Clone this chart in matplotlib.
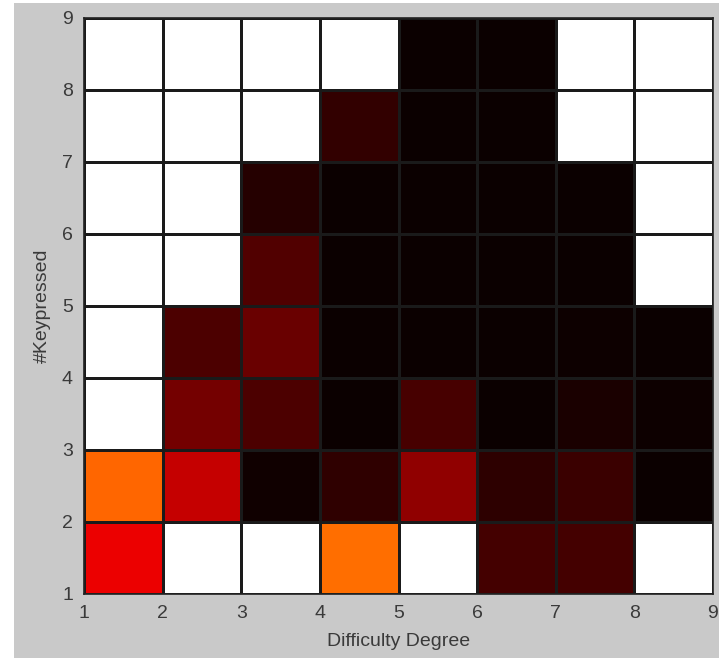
import numpy as np
import matplotlib
matplotlib.use("Agg")
import matplotlib.pyplot as plt
from matplotlib.patches import Rectangle

# Difficulty degree (x) and #Keypressed (y) edges
x_edges = [1, 2, 3, 4, 5, 6, 7, 8, 9]
y_edges = [1, 2, 3, 4, 5, 6, 7, 8, 9]

# Cell values (hot colormap scale, 0..1); rows bottom (y=1) to top (y=8)
row_y1 = [0.336, 1.0, 1.0, 0.530, 1.0, 0.086, 0.089, 1.0]
row_y2 = [0.517, 0.279, 0.010, 0.057, 0.200, 0.054, 0.072, 0.0]
row_y3 = [1.0, 0.157, 0.100, 0.0, 0.093, 0.0, 0.025, 0.005]
row_y4 = [1.0, 0.100, 0.143, 0.0, 0.0, 0.0, 0.005, 0.0]
row_y5 = [1.0, 1.0, 0.107, 0.0, 0.0, 0.0, 0.0, 1.0]
row_y6 = [1.0, 1.0, 0.040, 0.0, 0.0, 0.0, 0.0, 1.0]
row_y7 = [1.0, 1.0, 1.0, 0.060, 0.0, 0.0, 1.0, 1.0]
row_y8 = [1.0, 1.0, 1.0, 1.0, 0.0, 0.0, 1.0, 1.0]

Z = np.array([row_y1, row_y2, row_y3, row_y4, row_y5, row_y6, row_y7, row_y8])

bg = "#c9c9c9"
fig = plt.figure(figsize=(7.19, 6.58), dpi=100, facecolor=bg)
# white strips at left/top edges of the screenshot
fig.patches.append(Rectangle((0, 0), 14 / 719, 1, transform=fig.transFigure,
                             facecolor="white", edgecolor="none", zorder=-1))
fig.patches.append(Rectangle((0, 1 - 3 / 658), 1, 3 / 658, transform=fig.transFigure,
                             facecolor="white", edgecolor="none", zorder=-1))

ax = fig.add_axes([84 / 719, 1 - 594 / 658, (713 - 84) / 719, (594 - 18) / 658])
ax.pcolormesh(x_edges, y_edges, Z, cmap="hot", vmin=0, vmax=1,
              edgecolors="#1a1a1a", linewidth=1.0)
ax.set_xlim(1, 9)
ax.set_ylim(1, 9)
ax.set_xticks(x_edges)
ax.set_yticks(y_edges)
font = "Liberation Sans"
txt = "#3a3a3a"
ax.tick_params(direction="in", length=0, labelsize=14, colors=txt)
ax.tick_params(axis="x", pad=8)
ax.tick_params(axis="y", pad=8)
for lab in ax.get_xticklabels() + ax.get_yticklabels():
    lab.set_fontfamily(font)
ax.set_xlabel("Difficulty Degree", fontsize=14, family=font, color=txt, labelpad=8)
ax.set_ylabel("#Keypressed", fontsize=14, family=font, color=txt, labelpad=8)
for s in ax.spines.values():
    s.set_color("#222222")
    s.set_linewidth(1.2)

fig.savefig("out.png", dpi=100, facecolor=bg)
